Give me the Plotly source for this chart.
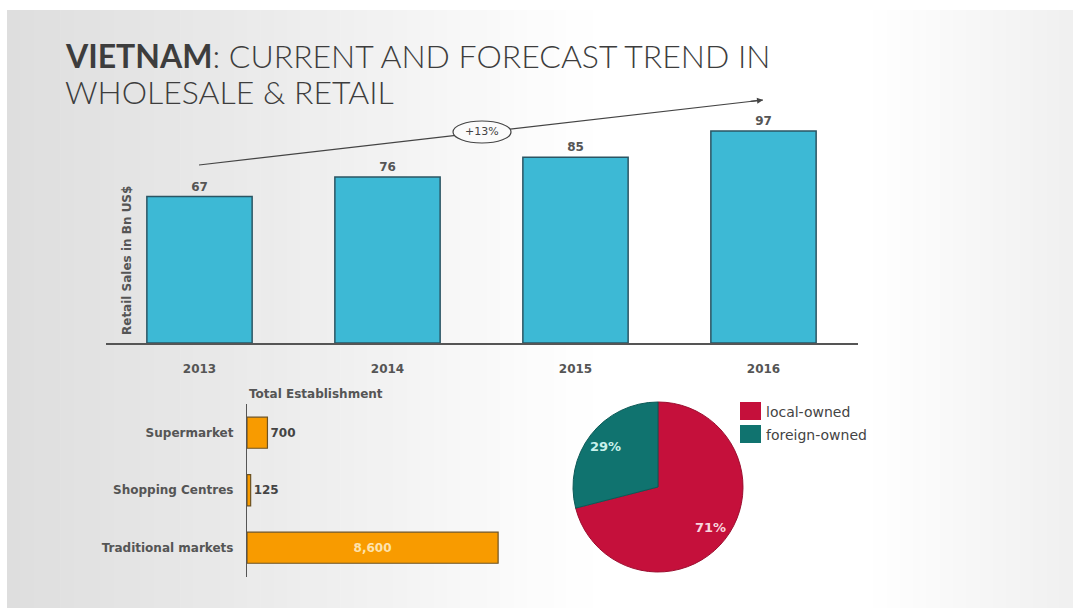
import math
import plotly.graph_objects as go

# ---------------- data ----------------
years = ["2013", "2014", "2015", "2016"]
retail_sales = [67, 76, 85, 97]
growth_label = "+13%"

est_types = ["Supermarket", "Shopping Centres", "Traditional markets"]
est_counts = [700, 125, 8600]

owner_labels = ["local-owned", "foreign-owned"]
owner_share = [71, 29]

# ---------------- helpers ----------------
W, H = 1073, 608
TFONT = "Lato"
FONT = "DejaVu Sans"


def px(x):
    return x / W


def py(y):
    return 1 - y / H


fig = go.Figure()

# Retail sales bars
fig.add_trace(go.Bar(
    x=years, y=retail_sales, text=retail_sales, textposition="outside",
    width=0.56, cliponaxis=False,
    marker=dict(color="#3DB9D5", line=dict(color="#2b5563", width=1.5)),
    textfont=dict(family=FONT, size=12, color="#555555", weight="bold"),
    xaxis="x", yaxis="y", showlegend=False, hoverinfo="skip",
))

# Establishment bars
fig.add_trace(go.Bar(
    y=est_types, x=est_counts, orientation="h", width=0.54,
    texttemplate="%{x:,}", textposition=["outside", "outside", "inside"],
    insidetextanchor="middle", cliponaxis=False,
    insidetextfont=dict(family=FONT, size=12, color="#fde3ad", weight="bold"),
    outsidetextfont=dict(family=FONT, size=12, color="#444444", weight="bold"),
    marker=dict(color="#F89B00", line=dict(color="#6e5322", width=1.2)),
    xaxis="x2", yaxis="y2", showlegend=False, hoverinfo="skip",
))

# Ownership pie
pie_colors = ["#C5103B", "#10736F"]
pie_x = [px(573), px(743)]
pie_y = [py(572), py(402)]
fig.add_trace(go.Pie(
    labels=owner_labels, values=owner_share, sort=False, direction="clockwise",
    rotation=0, textinfo="none", showlegend=False, hoverinfo="skip",
    marker=dict(colors=pie_colors, line=dict(color=["#9c0e2f", "#0c5a57"], width=1)),
    domain=dict(x=pie_x, y=pie_y),
))

annotations = []
shapes = []


def note(x, y, text, font, xanchor="center", yanchor="middle", **kw):
    d = dict(xref="paper", yref="paper", x=px(x), y=py(y), text=text,
             showarrow=False, xanchor=xanchor, yanchor=yanchor, font=font)
    d.update(kw)
    annotations.append(d)


# ---------------- background gradient ----------------
stops = [(7, 222), (150, 229), (350, 240), (520, 251), (600, 255),
         (860, 255), (960, 248), (1073, 239)]


def grey_at(x):
    for (x0, g0), (x1, g1) in zip(stops[:-1], stops[1:]):
        if x0 <= x <= x1:
            return g0 + (g1 - g0) * (x - x0) / (x1 - x0)
    return stops[-1][1]


n_strips = 80
strip_w = (W - 7) / n_strips
for i in range(n_strips):
    x0 = 7 + i * strip_w
    g = int(round(grey_at(x0 + strip_w / 2)))
    shapes.append(dict(type="rect", xref="paper", yref="paper",
                       x0=px(x0), x1=px(x0 + strip_w + 0.6), y0=0, y1=py(10),
                       fillcolor=f"rgb({g},{g},{g})", line=dict(width=0),
                       layer="below"))

# ---------------- title ----------------
title_font = dict(family=TFONT, size=32, color="#3d3d3d", weight=300)
note(63, 56, "<b>VIETNAM</b>: CURRENT AND FORECAST TREND IN", title_font, xanchor="left")
note(63, 92, "WHOLESALE &amp; RETAIL", title_font, xanchor="left")

# y-axis title of retail chart
note(127, 261, "Retail Sales in Bn US$",
     dict(family=FONT, size=12, color="#555555", weight="bold"), textangle=-90)

# trend arrow: line, ellipse on top, arrow head
hx, hy, tx, ty = 763, 100, 199, 165
shapes.append(dict(type="line", xref="paper", yref="paper",
                   x0=px(tx), y0=py(ty), x1=px(hx), y1=py(hy),
                   line=dict(color="#444444", width=1.2), layer="above"))
shapes.append(dict(type="circle", xref="paper", yref="paper",
                   x0=px(453), x1=px(511), y0=py(143), y1=py(121),
                   fillcolor="#fbfbfb", line=dict(color="#444444", width=1.2),
                   layer="above"))
L = math.hypot(tx - hx, ty - hy)
annotations.append(dict(
    xref="paper", yref="paper", x=px(hx), y=py(hy),
    ax=(tx - hx) / L * 14, ay=(ty - hy) / L * 14,
    axref="pixel", ayref="pixel", showarrow=True, arrowhead=2, arrowsize=1,
    arrowwidth=1.2, arrowcolor="#444444", text=""))
note(482, 132, growth_label, dict(family=FONT, size=11, color="#444444"))

# hbar chart title
note(247, 394, "Total Establishment",
     dict(family=FONT, size=12, color="#555555", weight="bold"), xanchor="left")

# pie labels at slice mid-angles
cx, cy, r = 658, 487, 85
total = sum(owner_share)
start = 0.0
label_colors = ["#f8d6de", "#c9f1ec"]
for v, c in zip(owner_share, label_colors):
    sweep = 360 * v / total
    mid = math.radians(start + sweep / 2)
    lx = cx + 0.78 * r * math.sin(mid)
    ly = cy - 0.78 * r * math.cos(mid)
    note(lx, ly, f"{round(100 * v / total)}%",
         dict(family=FONT, size=13, color=c, weight="bold"))
    start += sweep

# manual legend
for i, (lab, col) in enumerate(zip(owner_labels, pie_colors)):
    top = 402 + i * 23
    shapes.append(dict(type="rect", xref="paper", yref="paper",
                       x0=px(740), x1=px(761), y0=py(top + 18), y1=py(top),
                       fillcolor=col, line=dict(width=0)))
    note(764, top + 9.5, lab, dict(family=FONT, size=14, color="#444444"),
         xanchor="left")

fig.update_layout(
    width=W, height=H, margin=dict(l=0, r=0, t=0, b=0),
    paper_bgcolor="white", plot_bgcolor="rgba(0,0,0,0)",
    font=dict(family=FONT),
    xaxis=dict(domain=[px(105.5), px(857.5)], range=[-0.5, 3.5], type="category",
               anchor="y", showline=True, linecolor="#555555", linewidth=1.5,
               ticks="", showgrid=False, zeroline=False, ticklabelstandoff=14,
               tickfont=dict(family=FONT, size=12, color="#555555", weight="bold"),
               fixedrange=True),
    yaxis=dict(domain=[py(343), py(124.5)], range=[0, 100], anchor="x",
               visible=False, fixedrange=True),
    xaxis2=dict(domain=[px(247), px(539)], range=[0, 10000], anchor="y2",
                visible=False, fixedrange=True),
    yaxis2=dict(domain=[py(576.5), py(404)], range=[2.5, -0.5], anchor="x2",
                type="category", showline=True, linecolor="#555555", linewidth=1.2,
                ticks="", showgrid=False, zeroline=False, ticklabelstandoff=10,
                tickfont=dict(family=FONT, size=12, color="#555555", weight="bold"),
                fixedrange=True),
    shapes=shapes, annotations=annotations,
)

fig.write_html("out.html", config={"displayModeBar": False},
               post_script="document.body.style.margin='0px';")
